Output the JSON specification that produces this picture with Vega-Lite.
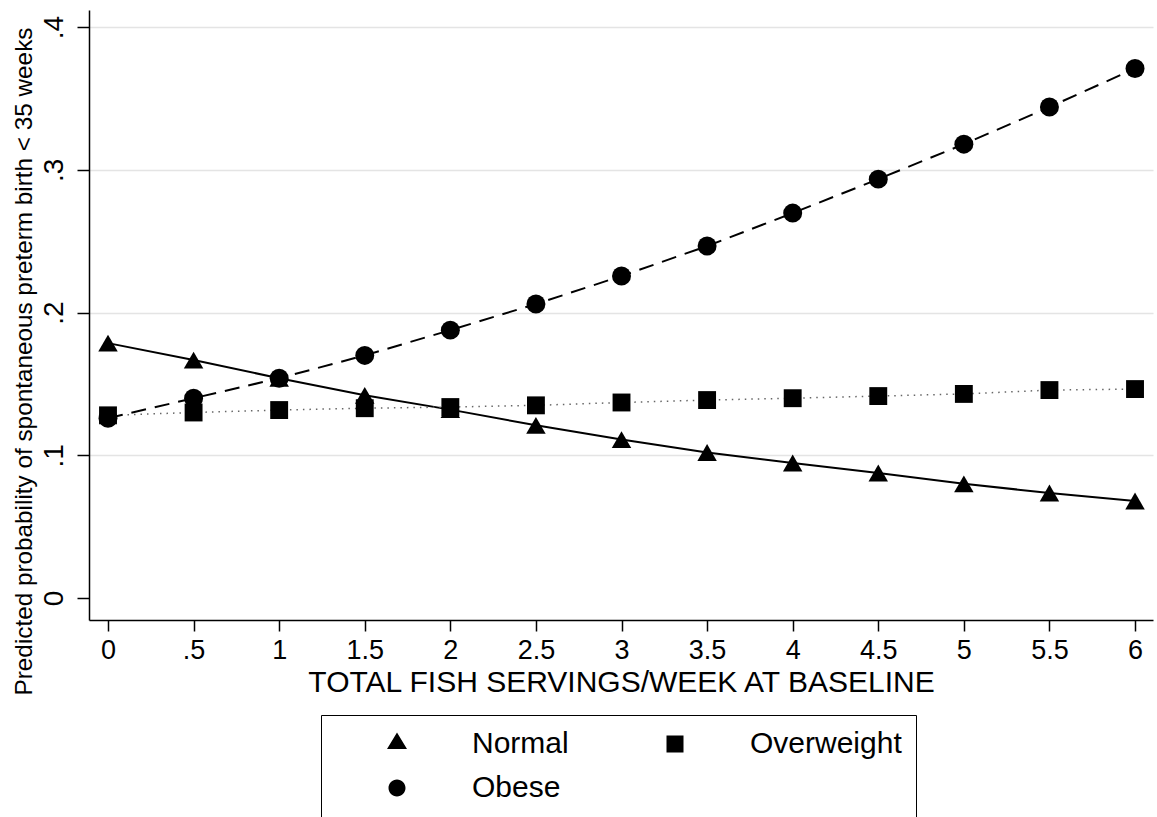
{
  "$schema": "https://vega.github.io/schema/vega-lite/v6.json",
  "width": 1064,
  "height": 610,
  "autosize": "none",
  "padding": {"left": 89, "top": 10, "right": 4, "bottom": 197},
  "background": "white",
  "config": {"view": {"stroke": null}, "font": "Liberation Sans"},
  "data": {"values": [
    {"x": 0, "g": "Normal", "p": 0.1786},
    {"x": 0.5, "g": "Normal", "p": 0.1667},
    {"x": 1, "g": "Normal", "p": 0.154},
    {"x": 1.5, "g": "Normal", "p": 0.142},
    {"x": 2, "g": "Normal", "p": 0.132},
    {"x": 2.5, "g": "Normal", "p": 0.121},
    {"x": 3, "g": "Normal", "p": 0.111},
    {"x": 3.5, "g": "Normal", "p": 0.102},
    {"x": 4, "g": "Normal", "p": 0.0946},
    {"x": 4.5, "g": "Normal", "p": 0.0876},
    {"x": 5, "g": "Normal", "p": 0.080},
    {"x": 5.5, "g": "Normal", "p": 0.0736},
    {"x": 6, "g": "Normal", "p": 0.068},
    {"x": 0, "g": "Overweight", "p": 0.128},
    {"x": 0.5, "g": "Overweight", "p": 0.130},
    {"x": 1, "g": "Overweight", "p": 0.1317},
    {"x": 1.5, "g": "Overweight", "p": 0.133},
    {"x": 2, "g": "Overweight", "p": 0.1338},
    {"x": 2.5, "g": "Overweight", "p": 0.135},
    {"x": 3, "g": "Overweight", "p": 0.137},
    {"x": 3.5, "g": "Overweight", "p": 0.1387},
    {"x": 4, "g": "Overweight", "p": 0.140},
    {"x": 4.5, "g": "Overweight", "p": 0.1415},
    {"x": 5, "g": "Overweight", "p": 0.143},
    {"x": 5.5, "g": "Overweight", "p": 0.1457},
    {"x": 6, "g": "Overweight", "p": 0.1464},
    {"x": 0, "g": "Obese", "p": 0.126},
    {"x": 0.5, "g": "Obese", "p": 0.140},
    {"x": 1, "g": "Obese", "p": 0.154},
    {"x": 1.5, "g": "Obese", "p": 0.170},
    {"x": 2, "g": "Obese", "p": 0.1877},
    {"x": 2.5, "g": "Obese", "p": 0.206},
    {"x": 3, "g": "Obese", "p": 0.2256},
    {"x": 3.5, "g": "Obese", "p": 0.2466},
    {"x": 4, "g": "Obese", "p": 0.2697},
    {"x": 4.5, "g": "Obese", "p": 0.2935},
    {"x": 5, "g": "Obese", "p": 0.318},
    {"x": 5.5, "g": "Obese", "p": 0.344},
    {"x": 6, "g": "Obese", "p": 0.371}
  ]},
  "encoding": {
    "x": {
      "field": "x", "type": "quantitative",
      "scale": {"domain": [-0.111, 6.105], "nice": false, "zero": false},
      "axis": {
        "values": [0, 0.5, 1, 1.5, 2, 2.5, 3, 3.5, 4, 4.5, 5, 5.5, 6],
        "labelExpr": "datum.value == 0 ? '0' : replace(toString(datum.value), /^0\\./, '.')",
        "grid": false,
        "domainColor": "black", "domainWidth": 1.5,
        "tickColor": "black", "tickWidth": 1.5, "tickSize": 11,
        "labelFontSize": 27, "labelColor": "black",
        "labelPadding": 6, "labelFlush": false, "labelOverlap": false,
        "title": "TOTAL FISH SERVINGS/WEEK AT BASELINE",
        "titleFontSize": 30, "titleFontWeight": "normal",
        "titleColor": "black", "titlePadding": 4
      }
    },
    "y": {
      "field": "p", "type": "quantitative",
      "scale": {"domain": [-0.0154, 0.412], "nice": false, "zero": false},
      "axis": {
        "values": [0, 0.1, 0.2, 0.3, 0.4],
        "labelExpr": "datum.value == 0 ? '0' : replace(toString(datum.value), /^0\\./, '.')",
        "grid": true,
        "gridColor": {"condition": {"test": "datum.value === 0", "value": "transparent"}, "value": "#e4e4e4"},
        "gridWidth": 1.5,
        "domainColor": "black", "domainWidth": 1.5,
        "tickColor": "black", "tickWidth": 1.5, "tickSize": 12,
        "labelAngle": -90, "labelAlign": "center", "labelBaseline": "bottom",
        "labelFontSize": 28, "labelColor": "black",
        "labelPadding": 9, "labelFlush": false, "labelOverlap": false,
        "title": "Predicted probability of spontaneous preterm birth < 35 weeks",
        "titleFontSize": 24.3, "titleFontWeight": "normal", "titleColor": "black",
        "titleAngle": -90, "titleAlign": "center", "titleBaseline": "middle",
        "titleX": -65, "titleY": 351
      }
    }
  },
  "layer": [
    {
      "transform": [{"filter": "datum.g === 'Normal'"}],
      "mark": {"type": "line", "color": "black", "strokeWidth": 2},
      "encoding": {}
    },
    {
      "transform": [{"filter": "datum.g === 'Overweight'"}],
      "mark": {"type": "line", "color": "#666", "strokeWidth": 1.5, "strokeDash": [1.5, 5]},
      "encoding": {}
    },
    {
      "transform": [{"filter": "datum.g === 'Obese'"}],
      "mark": {"type": "line", "color": "black", "strokeWidth": 2, "strokeDash": [15, 9]},
      "encoding": {}
    },
    {
      "mark": {"type": "point", "filled": true, "opacity": 1, "color": "black"},
      "encoding": {
        "shape": {"condition": [{"test": "datum.g === 'Normal'", "value": "triangle-up"}, {"test": "datum.g === 'Overweight'", "value": "square"}], "value": "circle"},
        "size": {"condition": [{"test": "datum.g === 'Overweight'", "value": 320}, {"test": "datum.g === 'Normal'", "value": 380}], "value": 360}
      }
    },
    {
      "mark": {"type": "point", "filled": true, "opacity": 1, "fill": "black", "stroke": "black", "strokeWidth": 2, "clip": true},
      "encoding": {
        "y": {"datum": -1},
        "shape": {
          "field": "g", "type": "nominal",
          "scale": {
            "domain": ["Normal", "Overweight", "Obese"],
            "range": [
              "M-5.65,0H5.65M0,-1.15L1.0,0.5L-1.0,0.5Z",
              "M-5.7,0H-5.55M-4.93,0H-4.78M-4.16,0H-4.01M-3.39,0H-3.24M-2.62,0H-2.47M-1.85,0H-1.7M-1.08,0H-0.93M0.93,0H1.08M1.7,0H1.85M2.47,0H2.62M3.24,0H3.39M4.01,0H4.16M4.78,0H4.93M5.55,0H5.7M-0.85,-0.85H0.85V0.85H-0.85Z",
              "M-5.65,0H-4.1M-3.1,0H-1.6M-0.8,0H1.0M1.9,0H3.4M4.3,0H5.65M-0.85,0A0.85,0.85 0 1,0 0.85,0A0.85,0.85 0 1,0 -0.85,0Z"
            ]
          },
          "legend": {
            "orient": "none", "legendX": 232, "legendY": 705,
            "direction": "horizontal",
            "columns": 2, "title": null,
            "strokeColor": "black", "padding": 14,
            "symbolSize": 400, "symbolOffset": 47, "labelOffset": 60,
            "labelFontSize": 30, "labelColor": "black",
            "columnPadding": 44, "rowPadding": 14,
            "symbolStrokeWidth": 2, "symbolFillColor": "black", "symbolStrokeColor": "black",
            "symbolOpacity": 1,
            "encode": {
              "symbols": {
                "update": {
                  "stroke": {"signal": "datum.value === 'Overweight' ? '#555' : 'black'"},
                  "strokeWidth": {"value": 2},
                  "fill": {"value": "black"},
                  "opacity": {"value": 1}
                }
              }
            }
          }
        }
      }
    }
  ]
}
